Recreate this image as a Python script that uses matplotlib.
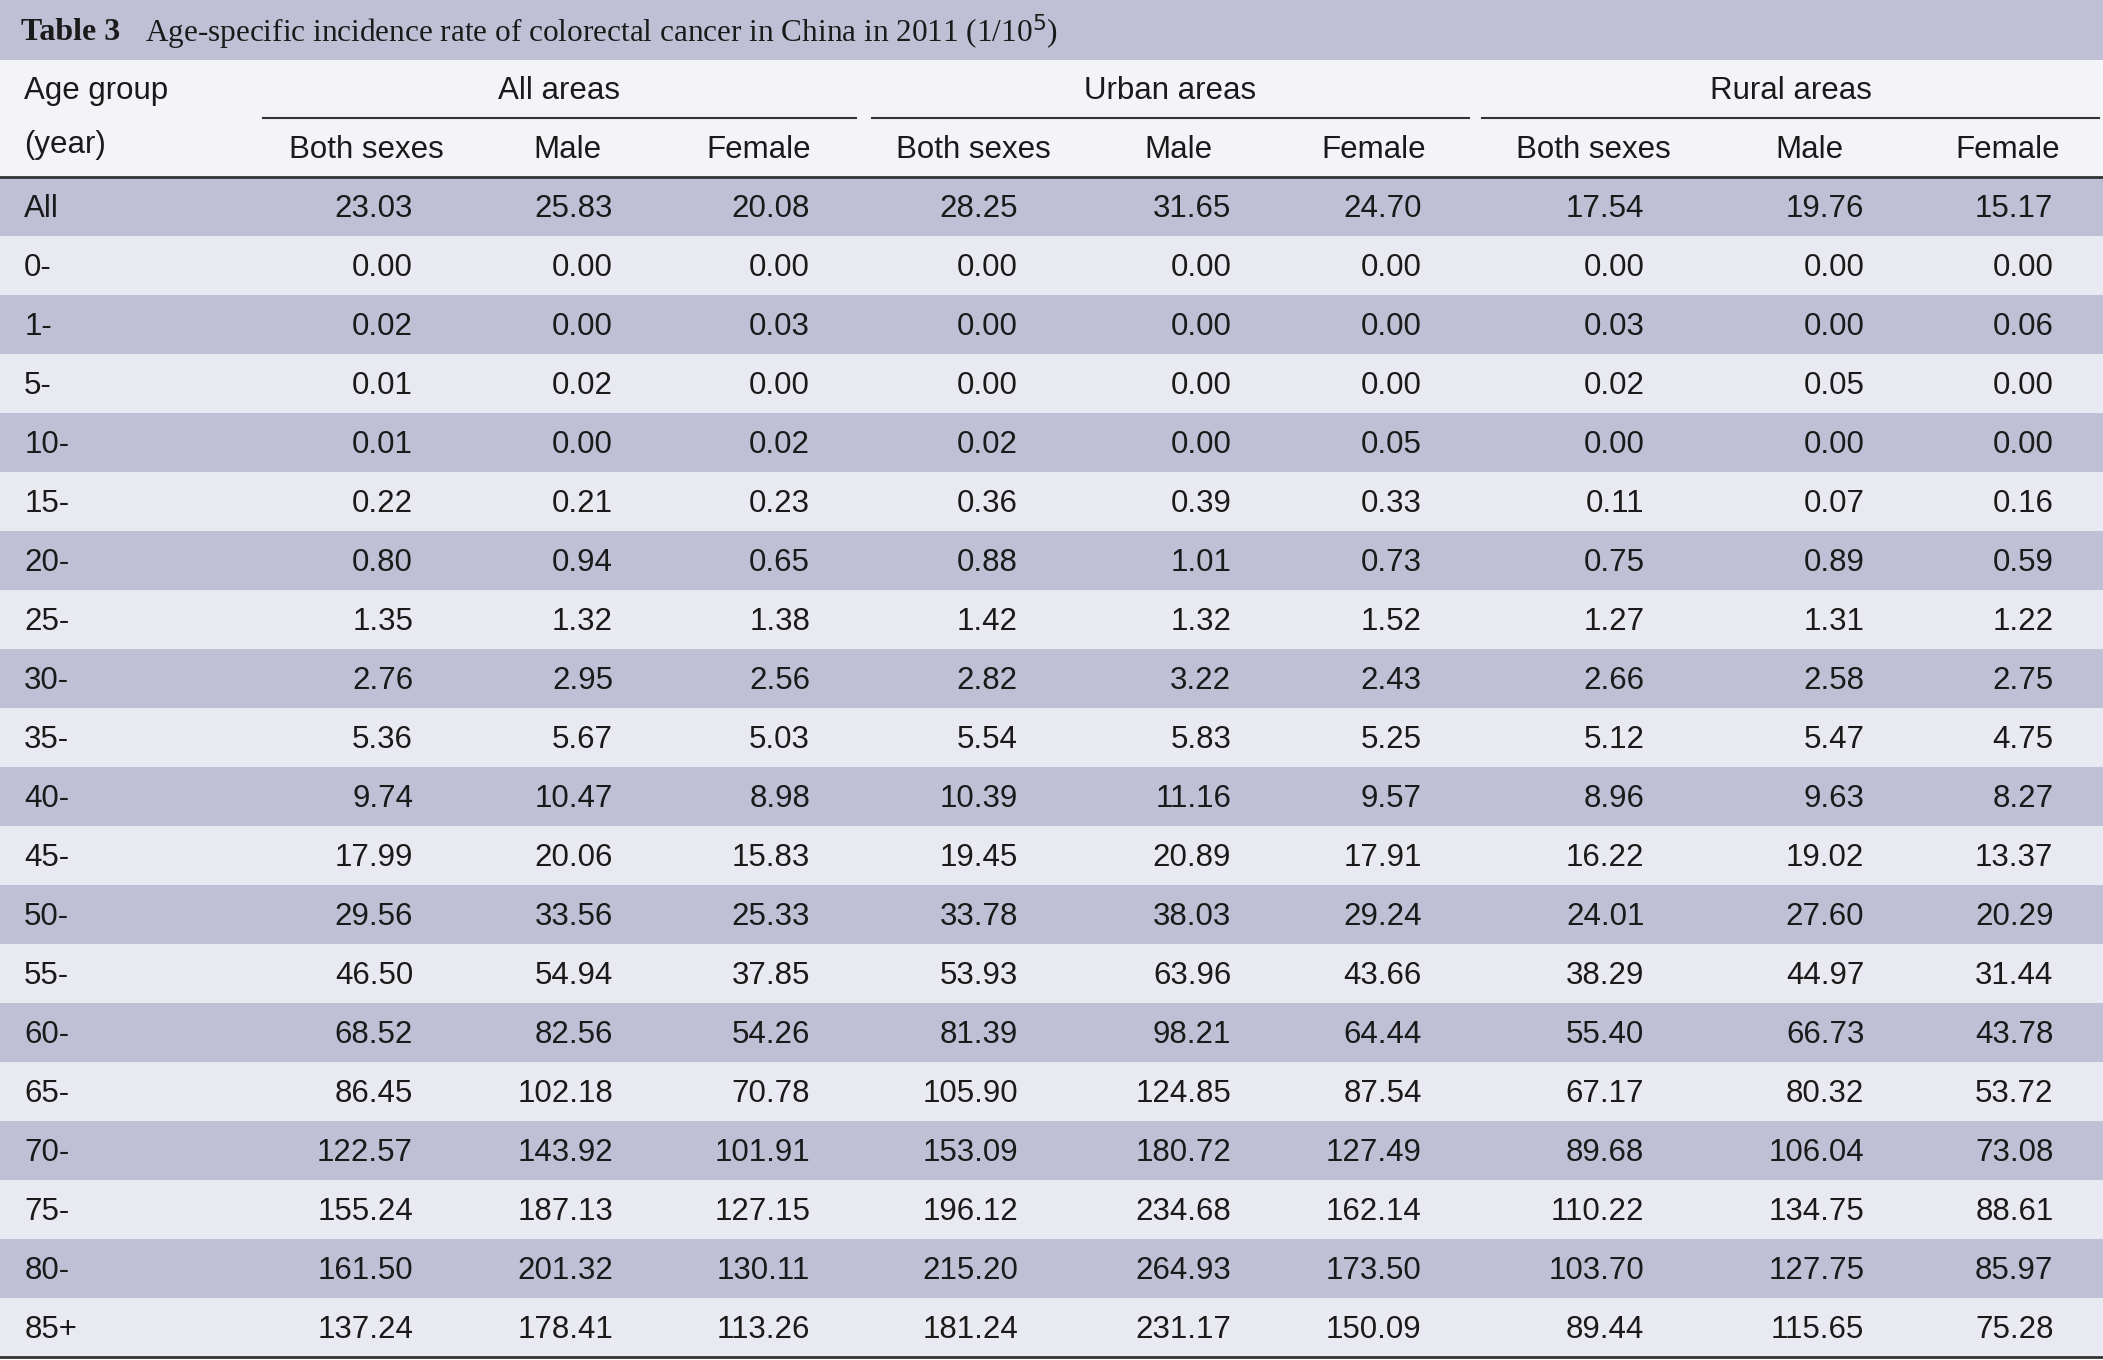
import matplotlib
matplotlib.use("Agg")
import matplotlib.pyplot as plt
from matplotlib.patches import Rectangle

title = "Age-specific incidence rate of colorectal cancer in China in 2011 (1/10$^5$)"
groups = ["All areas", "Urban areas", "Rural areas"]
subcols = ["Both sexes", "Male", "Female"] * 3
ages = ["All", "0-", "1-", "5-", "10-", "15-", "20-", "25-", "30-", "35-", "40-",
        "45-", "50-", "55-", "60-", "65-", "70-", "75-", "80-", "85+"]
rates = [
    [23.03, 25.83, 20.08, 28.25, 31.65, 24.70, 17.54, 19.76, 15.17],
    [0.00, 0.00, 0.00, 0.00, 0.00, 0.00, 0.00, 0.00, 0.00],
    [0.02, 0.00, 0.03, 0.00, 0.00, 0.00, 0.03, 0.00, 0.06],
    [0.01, 0.02, 0.00, 0.00, 0.00, 0.00, 0.02, 0.05, 0.00],
    [0.01, 0.00, 0.02, 0.02, 0.00, 0.05, 0.00, 0.00, 0.00],
    [0.22, 0.21, 0.23, 0.36, 0.39, 0.33, 0.11, 0.07, 0.16],
    [0.80, 0.94, 0.65, 0.88, 1.01, 0.73, 0.75, 0.89, 0.59],
    [1.35, 1.32, 1.38, 1.42, 1.32, 1.52, 1.27, 1.31, 1.22],
    [2.76, 2.95, 2.56, 2.82, 3.22, 2.43, 2.66, 2.58, 2.75],
    [5.36, 5.67, 5.03, 5.54, 5.83, 5.25, 5.12, 5.47, 4.75],
    [9.74, 10.47, 8.98, 10.39, 11.16, 9.57, 8.96, 9.63, 8.27],
    [17.99, 20.06, 15.83, 19.45, 20.89, 17.91, 16.22, 19.02, 13.37],
    [29.56, 33.56, 25.33, 33.78, 38.03, 29.24, 24.01, 27.60, 20.29],
    [46.50, 54.94, 37.85, 53.93, 63.96, 43.66, 38.29, 44.97, 31.44],
    [68.52, 82.56, 54.26, 81.39, 98.21, 64.44, 55.40, 66.73, 43.78],
    [86.45, 102.18, 70.78, 105.90, 124.85, 87.54, 67.17, 80.32, 53.72],
    [122.57, 143.92, 101.91, 153.09, 180.72, 127.49, 89.68, 106.04, 73.08],
    [155.24, 187.13, 127.15, 196.12, 234.68, 162.14, 110.22, 134.75, 88.61],
    [161.50, 201.32, 130.11, 215.20, 264.93, 173.50, 103.70, 127.75, 85.97],
    [137.24, 178.41, 113.26, 181.24, 231.17, 150.09, 89.44, 115.65, 75.28],
]

W, H = 1568, 1014
fig = plt.figure(figsize=(21.03, 13.60), dpi=100)
ax = fig.add_axes([0, 0, 1, 1])
ax.set_xlim(0, W)
ax.set_ylim(H, 0)
ax.axis("off")

dark = "#bfbfd6"
light = "#e9e9f2"
fs = 22.5
font = "Liberation Sans"
col = "#1a1a1a"

# title band
ax.add_patch(Rectangle((0, 0), W, 45, color=dark, lw=0))
ax.text(16, 24, "Table 3", fontfamily="Liberation Serif", fontweight="bold",
        fontsize=23, va="center", color=col)
ax.text(108, 24, title, fontfamily="Liberation Serif", fontsize=22.5, va="center", color=col)
ax.add_patch(Rectangle((0, 45), W, 87, color="#f4f4f8", lw=0))

# header
ax.text(18, 68, "Age group", fontfamily=font, fontsize=fs, va="center", color=col)
ax.text(18, 108, "(year)", fontfamily=font, fontsize=fs, va="center", color=col)
group_spans = [(196, 638), (650, 1095), (1105, 1565)]
for g, (a, b) in zip(groups, group_spans):
    ax.text((a + b) / 2, 68, g, fontfamily=font, fontsize=fs, ha="center", va="center", color=col)
    ax.plot([a, b], [88, 88], color="#333333", lw=1.5)
sub_x = [273, 423, 566, 726, 879, 1024, 1188, 1349, 1497]
for s, x in zip(subcols, sub_x):
    ax.text(x, 112, s, fontfamily=font, fontsize=fs, ha="center", va="center", color=col)
ax.plot([0, W], [132, 132], color="#333333", lw=2)

# body
num_x = [308, 457, 604, 759, 918, 1060, 1226, 1390, 1531]
rh = 44
for i, (age, row) in enumerate(zip(ages, rates)):
    y0 = 132 + i * rh
    ax.add_patch(Rectangle((0, y0), W, rh, color=dark if i % 2 == 0 else light, lw=0))
    yc = y0 + rh / 2 + 2
    ax.text(18, yc, age, fontfamily=font, fontsize=fs, va="center", color=col)
    for v, x in zip(row, num_x):
        ax.text(x, yc, f"{v:.2f}", fontfamily=font, fontsize=fs, ha="right", va="center", color=col)
ax.plot([0, W], [132 + 20 * rh, 132 + 20 * rh], color="#333333", lw=2)

fig.savefig("out.png", dpi=100)
